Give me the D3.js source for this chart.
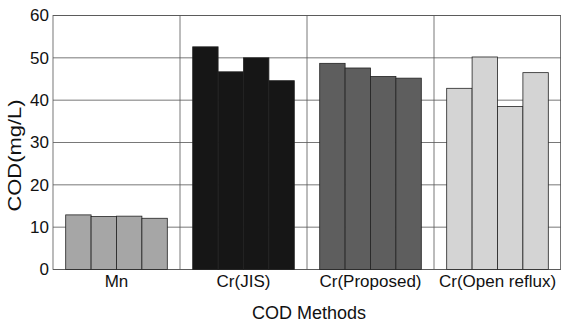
<!DOCTYPE html>
<html>
<head>
<meta charset="utf-8">
<script src="https://cdn.jsdelivr.net/npm/d3@7"></script>
<style>
  html, body { margin: 0; padding: 0; background: #fff; }
  svg { display: block; font-family: "Liberation Sans", Arial, sans-serif; }
</style>
</head>
<body>
<svg id="chart" width="561" height="324"></svg>
<script>
// COD values, four samples per method
const methods = ["Mn", "Cr(JIS)", "Cr(Proposed)", "Cr(Open reflux)"];
const mnVals = [12.9, 12.5, 12.6, 12.1];
const jisVals = [52.6, 46.7, 50.0, 44.6];
const proposedVals = [48.7, 47.6, 45.6, 45.2];
const openVals = [42.8, 50.2, 38.5, 46.5];
const yTicks = [0, 10, 20, 30, 40, 50, 60];
const fills = ["#a6a6a6", "#161616", "#5e5e5e", "#d4d4d4"];

const series = [mnVals, jisVals, proposedVals, openVals];
const svg = d3.select("#chart");
const M = { top: 15.5, right: 0, bottom: 54.5, left: 53 };
const W = 561, H = 324;
const iw = W - M.left - M.right, ih = H - M.top - M.bottom;
const g = svg.append("g").attr("transform", `translate(${M.left},${M.top})`);

const x = d3.scaleBand().domain(methods).range([0, iw]).padding(0);
const y = d3.scaleLinear().domain([0, 60]).range([ih, 0]);
// four bars per method, half a bar of space at each side
const xs = d3.scaleBand().domain(d3.range(4)).range([0, x.bandwidth()]).paddingInner(0).paddingOuter(0.5);

// horizontal grid
g.append("g").selectAll("line").data(yTicks).join("line")
  .attr("x1", 0).attr("x2", iw).attr("y1", d => y(d)).attr("y2", d => y(d))
  .attr("stroke", "#555").attr("stroke-width", 0.8);
// category dividers
g.append("g").selectAll("line").data(methods.slice(1)).join("line")
  .attr("x1", d => x(d)).attr("x2", d => x(d)).attr("y1", 0).attr("y2", ih)
  .attr("stroke", "#555").attr("stroke-width", 0.8);
g.append("rect").attr("x", 0).attr("y", 0).attr("width", iw - 0.5).attr("height", ih)
  .attr("fill", "none").attr("stroke", "#555").attr("stroke-width", 0.8);

// bars
methods.forEach((m, i) => {
  g.append("g").attr("transform", `translate(${x(m)},0)`)
    .selectAll("rect").data(series[i]).join("rect")
    .attr("x", (d, j) => xs(j)).attr("width", xs.bandwidth())
    .attr("y", d => y(d)).attr("height", d => ih - y(d))
    .attr("fill", fills[i]).attr("stroke", "#222").attr("stroke-width", 0.8);
});

// axes
const ya = g.append("g").call(d3.axisLeft(y).tickValues(yTicks).tickSize(0).tickPadding(4));
ya.select(".domain").remove();
ya.selectAll("text").attr("font-size", 17).attr("fill", "#111").attr("font-family", "Liberation Sans, Arial, sans-serif");

const xa = g.append("g").attr("transform", `translate(0,${ih})`).call(d3.axisBottom(x).tickSize(0).tickPadding(5));
xa.select(".domain").remove();
xa.selectAll("text").attr("font-size", 17).attr("fill", "#111").attr("font-family", "Liberation Sans, Arial, sans-serif");

svg.append("text").attr("x", 309).attr("y", 319).attr("text-anchor", "middle")
  .attr("font-size", 18).attr("fill", "#111").text("COD Methods");
svg.append("text").attr("transform", "translate(21,155.5) rotate(-90)").attr("text-anchor", "middle")
  .attr("font-size", 18).attr("textLength", 112).attr("lengthAdjust", "spacingAndGlyphs")
  .attr("fill", "#111").text("COD(mg/L)");
</script>
</body>
</html>
